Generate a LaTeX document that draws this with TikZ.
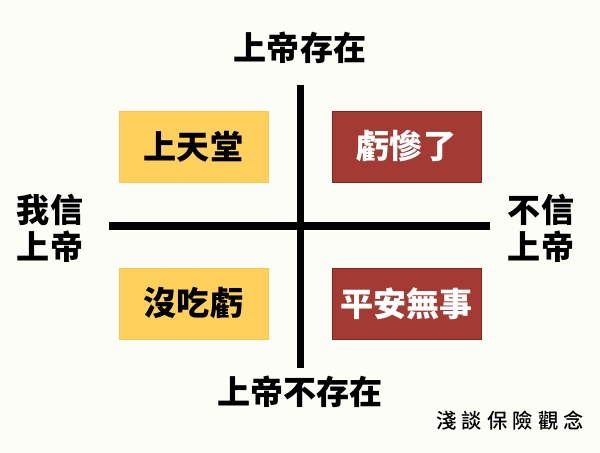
\documentclass[tikz,border=0pt]{standalone}
\usepackage{fontspec}
\newfontfamily\cjk{Noto Sans CJK TC Black}
\newfontfamily\cjkmark[LetterSpace=25]{Noto Sans CJK TC Medium}
\usetikzlibrary{positioning}
\definecolor{cbg}{HTML}{FDFDF8}
\definecolor{cyellow}{HTML}{FFD05C}
\definecolor{cyellowline}{HTML}{FFC84A}
\definecolor{cred}{HTML}{A33B34}
\definecolor{credline}{HTML}{8E1F1F}
\tikzset{
  every picture/.style={x=0.025cm, y=-0.025cm},
  axis/.style={line width=0.175cm},
  side/.style={font=\cjk\fontsize{23.5}{26.5}\selectfont, align=center, inner sep=0pt},
  quad/.style={draw=#1line, fill=#1, line width=0.6pt, minimum width=3.725cm,
               minimum height=1.775cm, inner sep=0pt, font=\cjk\fontsize{23.5}{26.5}\selectfont},
}
\begin{document}
\begin{tikzpicture}
  \useasboundingbox[fill=cbg] (0,0) rectangle (600,453);
  % the two axes
  \coordinate (ytop) at (300,85);
  \coordinate (ybot) at (300,368);
  \coordinate (xleft) at (109,226);
  \coordinate (xright) at (490,226);
  \draw[axis] (ytop) -- (ybot);
  \draw[axis] (xleft) -- (xright);
  % axis labels
  \node[side] (exist) at (300,48) {上帝存在};
  \node[side] (noexist) at (300,392) {上帝不存在};
  \node[side] (believe) at (50,228) {我信\\上帝};
  \node[side] (nobelieve) at (541,228) {不信\\上帝};
  % the four outcomes
  \node[quad=cyellow] (heaven) at (193.5,146.5) {上天堂};
  \node[quad=cred, text=white] (loss) at (406.5,146.5) {虧慘了};
  \node[quad=cyellow] (noloss) at (193.5,303.5) {沒吃虧};
  \node[quad=cred, text=white] (safe) at (406.5,303.5) {平安無事};
  % watermark
  \node[font=\cjkmark\fontsize{14.5}{16}\selectfont, inner sep=0pt] (mark) at (510,421) {淺談保險觀念};
\end{tikzpicture}
\end{document}
